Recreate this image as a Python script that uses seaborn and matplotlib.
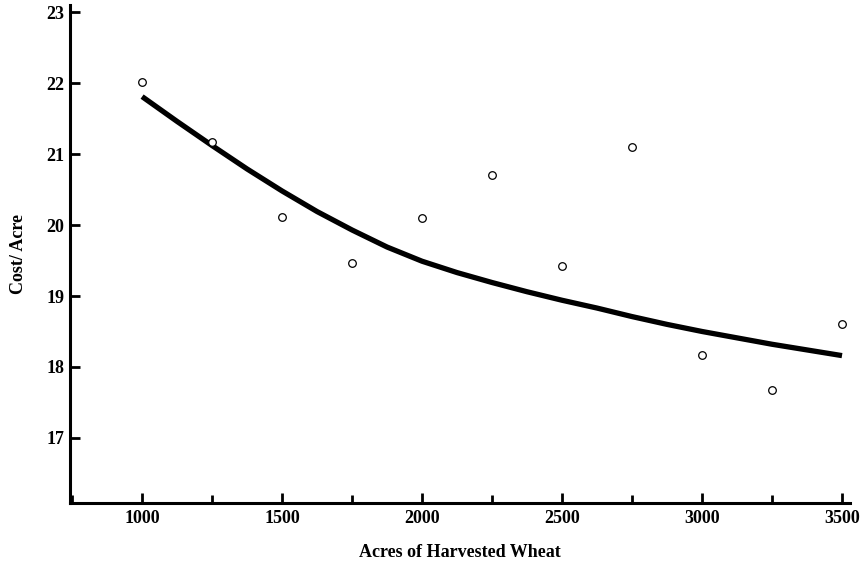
import matplotlib
matplotlib.use("Agg")
import matplotlib.pyplot as plt
import seaborn as sns
import pandas as pd
from matplotlib.ticker import MultipleLocator

# Observed data
acres = [1000, 1250, 1500, 1750, 2000, 2250, 2500, 2750, 3000, 3250, 3500]
cost = [22.02, 21.17, 20.12, 19.47, 20.10, 20.71, 19.42, 21.10, 18.17, 17.68, 18.60]

# Fitted curve
curve_x = [1000, 1125, 1250, 1375, 1500, 1625, 1750, 1875, 2000, 2125, 2250,
           2375, 2500, 2625, 2750, 2875, 3000, 3125, 3250, 3375, 3500]
curve_y = [21.81, 21.46, 21.12, 20.79, 20.48, 20.19, 19.93, 19.69, 19.49, 19.33, 19.19,
           19.06, 18.94, 18.83, 18.71, 18.60, 18.50, 18.41, 18.32, 18.24, 18.16]

x_ticks = [1000, 1500, 2000, 2500, 3000, 3500]
y_ticks = [17, 18, 19, 20, 21, 22, 23]

sns.set_theme(style="white")
plt.rcParams['font.family'] = ['Liberation Serif', 'DejaVu Serif']
plt.rcParams['font.weight'] = 'bold'
plt.rcParams['text.color'] = 'black'
plt.rcParams['axes.labelcolor'] = 'black'
plt.rcParams['xtick.color'] = 'black'
plt.rcParams['ytick.color'] = 'black'

fig = plt.figure(figsize=(8.66, 5.61), dpi=100)
ax = fig.add_axes([0.081, 0.103, 0.901, 0.888])

df_pts = pd.DataFrame({"x": acres, "y": cost})
df_curve = pd.DataFrame({"x": curve_x, "y": curve_y})

sns.lineplot(data=df_curve, x="x", y="y", ax=ax, color="black", linewidth=3.8,
             solid_capstyle="butt", solid_joinstyle="round")
sns.scatterplot(data=df_pts, x="x", y="y", ax=ax, marker="o", s=30,
                facecolor="white", edgecolor="black", linewidth=0.9, zorder=5)

ax.set_xlim(743, 3530)
ax.set_ylim(16.08, 23.1)
ax.set_xticks(x_ticks)
ax.xaxis.set_minor_locator(MultipleLocator(250))
ax.set_yticks(y_ticks)

for s in ["top", "right"]:
    ax.spines[s].set_visible(False)
for s in ["left", "bottom"]:
    ax.spines[s].set_linewidth(2.2)
    ax.spines[s].set_color("black")

ax.tick_params(axis="both", which="both", direction="in", width=2.0, color="black",
               labelcolor="black", labelsize=13)
ax.tick_params(axis="x", which="major", length=7, pad=5, bottom=True)
ax.tick_params(axis="x", which="minor", length=6, bottom=True)
ax.tick_params(axis="y", which="major", length=7, pad=4, left=True)
for lbl in ax.get_xticklabels() + ax.get_yticklabels():
    lbl.set_fontweight("bold")

ax.set_xlabel("Acres of Harvested Wheat", fontsize=13, fontweight="bold",
              color="black", labelpad=12)
ax.set_ylabel("Cost/ Acre", fontsize=13, fontweight="bold", color="black",
              labelpad=14)

fig.savefig("out.png", dpi=100)
